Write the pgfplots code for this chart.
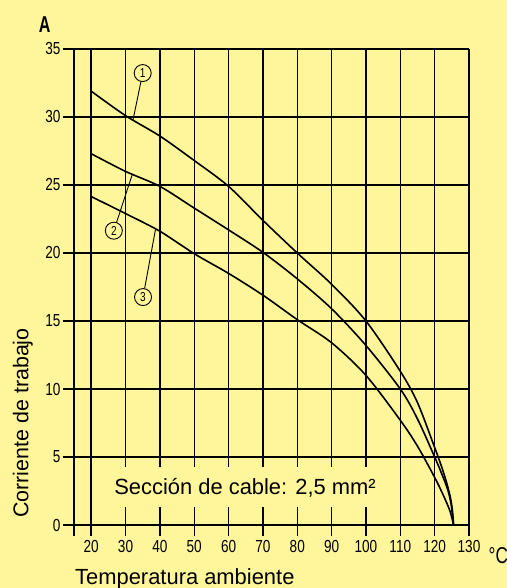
\documentclass[border=0pt]{standalone}
\usepackage{fontspec}
\setmainfont{Liberation Sans}
\usepackage{graphicx}
\usepackage{pgfplots}
\pgfplotsset{compat=1.18}
\definecolor{bgc}{RGB}{255,245,155}
\newcommand\cn[1]{\scalebox{0.78}[1]{#1}}
\begin{document}
\begin{tikzpicture}
\path[use as bounding box] (-74bp,-63bp) rectangle (433bp,525bp);
\clip (-74bp,-63bp) rectangle (433bp,525bp);
\fill[bgc] (-74bp,-63bp) rectangle (433bp,525bp);
\begin{axis}[
  at={(0,0)}, anchor=south west,
  scale only axis, width=395bp, height=476bp,
  xmin=15, xmax=130, ymin=0, ymax=35,
  enlargelimits=false,
  axis lines=left,
  axis line style={-, black, line width=1.5bp},
  grid=major,
  grid style={black, line width=1.4bp},
  tick align=outside,
  major tick length=11bp,
  tick style={black, line width=1.4bp},
  xtick={20,30,...,130},
  ytick={0,5,...,35},
  extra x ticks={15},
  extra x tick labels={},
  xticklabels={\cn{20},\cn{30},\cn{40},\cn{50},\cn{60},\cn{70},\cn{80},\cn{90},\cn{100},\cn{110},\cn{120},\cn{130}},
  yticklabels={\cn{0},\cn{5},\cn{10},\cn{15},\cn{20},\cn{25},\cn{30},\cn{35}},
  ticklabel style={font=\fontsize{17.5}{17.5}\selectfont, text=black},
  yticklabel style={xshift=1bp},
  xticklabel style={yshift=-1bp},
]
\addplot[black, line width=1.6bp, smooth, tension=0.5] coordinates {
 (20,31.9) (30,30.1) (40,28.6) (50,26.8) (60,24.9) (70,22.4) (80,20.0) (90,17.7)
 (100,15.0) (110,11.3) (115,9.0) (120,5.7) (122,4.3) (123.5,3.1) (124.6,2.0) (125.2,1.0) (125.5,0)
};
\addplot[black, line width=1.6bp, smooth, tension=0.5] coordinates {
 (20,27.3) (30,26.0) (40,24.9) (50,23.3) (60,21.7) (70,20.05) (80,18.1) (90,15.9)
 (100,13.2) (110,10.0) (115,7.8) (120,5.0) (122,3.8) (123.8,2.6) (124.8,1.5) (125.5,0)
};
\addplot[black, line width=1.6bp, smooth, tension=0.5] coordinates {
 (20,24.15) (30,22.9) (40,21.6) (50,19.95) (60,18.5) (70,16.9) (80,15.1) (90,13.4)
 (100,11.0) (110,7.7) (115,5.8) (120,3.5) (122.5,2.2) (124.5,1.0) (125.5,0)
};
\fill[bgc] (axis cs:21.1,1.35) rectangle (axis cs:105.4,4.29);
\node[anchor=base, font=\fontsize{22}{22}\selectfont] at (axis cs:64.8,2.23) {Sección de cable: 2,5 mm²};
\node[circle, draw, line width=0.9bp, minimum size=17bp, inner sep=0pt, font=\fontsize{13}{13}\selectfont] (c1) at (axis cs:35.0,33.23) {\cn{1}};
\node[circle, draw, line width=0.9bp, minimum size=17bp, inner sep=0pt, font=\fontsize{13}{13}\selectfont] (c2) at (axis cs:26.6,21.64) {\cn{2}};
\node[circle, draw, line width=0.9bp, minimum size=17bp, inner sep=0pt, font=\fontsize{13}{13}\selectfont] (c3) at (axis cs:35.1,16.76) {\cn{3}};
\draw[line width=0.9bp] (c1) -- (axis cs:32.2,29.8);
\draw[line width=0.9bp] (c2) -- (axis cs:32.0,25.8);
\draw[line width=0.9bp] (c3) -- (axis cs:38.7,21.7);
\end{axis}
\node[font=\fontsize{23}{23}\selectfont\bfseries] at (-29.3bp,500bp) {\scalebox{0.7}[1]{A}};
\node[anchor=base west, inner sep=0pt, font=\fontsize{23}{23}\selectfont] at (414.5bp,-38bp) {\scalebox{0.75}[1]{°C}};
\node[anchor=base west, inner sep=0pt, font=\fontsize{22}{22}\selectfont] at (1bp,-59bp) {Temperatura ambiente};
\node[anchor=base, rotate=90, inner sep=0pt, font=\fontsize{21.5}{21.5}\selectfont] at (-45.5bp,102bp) {Corriente de trabajo};
\end{tikzpicture}
\end{document}
